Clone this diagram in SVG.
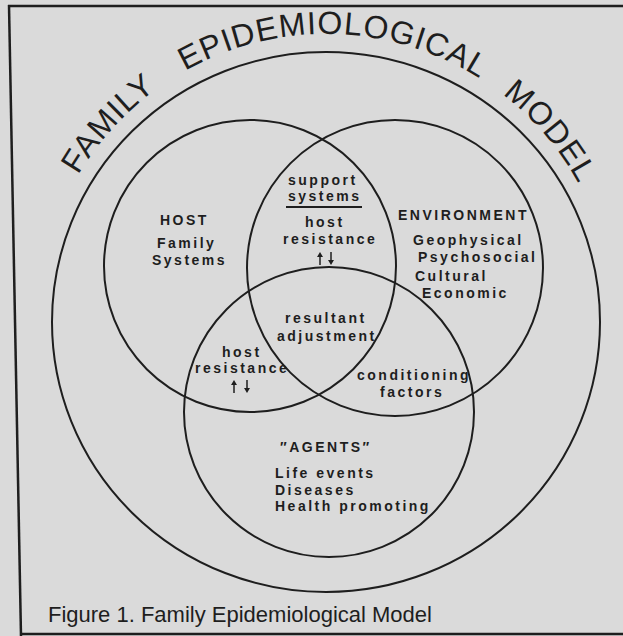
<svg xmlns="http://www.w3.org/2000/svg" width="623" height="636" viewBox="0 0 623 636">
<defs>
<style>
.ln{fill:none;stroke:#1e1e1e;stroke-width:2}
.t{font-family:"Liberation Sans",Arial,sans-serif;font-size:14px;font-weight:bold;fill:#1e1e1e;letter-spacing:2.5px}
.ttl{font-family:"Liberation Sans",Arial,sans-serif;font-size:32px;fill:#1e1e1e;letter-spacing:1px}
.cap{font-family:"Liberation Sans",Arial,sans-serif;font-size:22px;fill:#1e1e1e}
</style>
<path id="arc" d="M 38,322 A 288 288 0 0 1 614,322"/>
<g id="up"><line x1="0" y1="3" x2="0" y2="13" stroke="#1e1e1e" stroke-width="1.5"/><polygon points="-3,5 3,5 0,0" fill="#1e1e1e"/></g>
<g id="down"><line x1="0" y1="0" x2="0" y2="10" stroke="#1e1e1e" stroke-width="1.5"/><polygon points="-3,8 3,8 0,13" fill="#1e1e1e"/></g>
</defs>
<rect width="623" height="636" fill="#dadada"/>
<g id="frame" stroke="#1e1e1e" stroke-width="2.5" fill="none">
<line x1="8" y1="6" x2="623" y2="6"/>
<line x1="9" y1="5" x2="21" y2="636"/>
<line x1="20" y1="634" x2="623" y2="634"/>
</g>
<g id="title">
<text class="ttl"><textPath href="#arc" startOffset="154">FAMILY</textPath></text>
<text class="ttl"><textPath href="#arc" startOffset="305">EPIDEMIOLOGICAL</textPath></text>
<text class="ttl"><textPath href="#arc" startOffset="642">MODEL</textPath></text>
</g>
<g id="connectors">
<ellipse id="outer" class="ln" cx="326" cy="322" rx="274" ry="270"/>
</g>
<g id="host">
<circle class="ln" cx="250" cy="266" r="146"/>
<text class="t" x="160" y="225">HOST</text>
<text class="t" x="157" y="248">Family</text>
<text class="t" x="152" y="265">Systems</text>
</g>
<g id="environment">
<circle class="ln" cx="395" cy="268" r="148"/>
<text class="t" x="398" y="220">ENVIRONMENT</text>
<text class="t" x="413" y="245">Geophysical</text>
<text class="t" x="418" y="262">Psychosocial</text>
<text class="t" x="415" y="281">Cultural</text>
<text class="t" x="422" y="298">Economic</text>
</g>
<g id="agents">
<circle class="ln" cx="329" cy="412" r="145"/>
<text class="t" x="280" y="452">″AGENTS″</text>
<text class="t" x="275" y="478">Life events</text>
<text class="t" x="275" y="495">Diseases</text>
<text class="t" x="275" y="511">Health promoting</text>
</g>
<g id="support">
<text class="t" x="288" y="185">support</text>
<text class="t" x="288" y="201">systems</text>
<line x1="286" y1="207" x2="362" y2="207" stroke="#1e1e1e" stroke-width="2"/>
<text class="t" x="305" y="227">host</text>
<text class="t" x="283" y="244">resistance</text>
<use href="#up" x="320" y="252"/>
<use href="#down" x="331" y="252"/>
</g>
<g id="resultant">
<text class="t" x="285" y="323">resultant</text>
<text class="t" x="277" y="341">adjustment</text>
</g>
<g id="hostres">
<text class="t" x="222" y="357">host</text>
<text class="t" x="195" y="373">resistance</text>
<use href="#up" x="234" y="380"/>
<use href="#down" x="247" y="380"/>
</g>
<g id="conditioning">
<text class="t" x="357" y="380">conditioning</text>
<text class="t" x="380" y="397">factors</text>
</g>
<g id="caption">
<text class="cap" x="48" y="622">Figure 1. Family Epidemiological Model</text>
</g>
</svg>
